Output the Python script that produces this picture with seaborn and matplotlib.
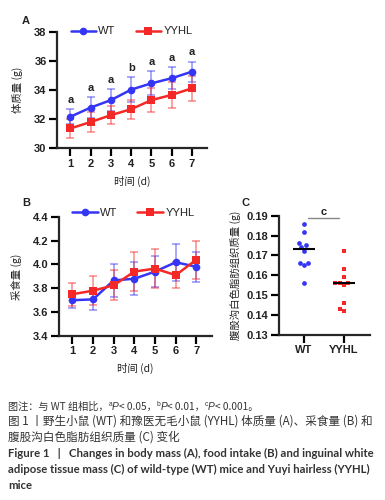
import numpy as np
import pandas as pd
import seaborn as sns
import matplotlib
matplotlib.use('Agg')
import matplotlib.pyplot as plt
from matplotlib.ticker import FormatStrFormatter

# data
days = [1, 2, 3, 4, 5, 6, 7]
groups = ['WT', 'YYHL']

mass_wt = [32.16, 32.79, 33.3, 34.02, 34.45, 34.8, 35.25]
mass_wt_sd = [0.52, 0.73, 0.75, 0.84, 0.82, 0.75, 0.68]
mass_yy = [31.36, 31.8, 32.27, 32.68, 33.3, 33.66, 34.11]
mass_yy_sd = [0.66, 0.66, 0.62, 0.66, 0.82, 0.9, 0.86]
mass_sig = ['a', 'a', 'a', 'b', 'a', 'a', 'a']

food_wt = [3.70, 3.707, 3.866, 3.88, 3.94, 4.018, 3.98]
food_wt_sd = [0.065, 0.09, 0.14, 0.14, 0.13, 0.155, 0.125]
food_yy = [3.75, 3.78, 3.825, 3.94, 3.965, 3.91, 4.04]
food_yy_sd = [0.095, 0.12, 0.125, 0.165, 0.165, 0.11, 0.16]

fat_wt = [0.186, 0.182, 0.176, 0.175, 0.174, 0.172, 0.166, 0.166, 0.165, 0.156]
fat_yy = [0.172, 0.163, 0.159, 0.156, 0.156, 0.156, 0.155, 0.146, 0.143, 0.142]

blue = '#3535f5'
red = '#f52828'
palette = {'WT': blue, 'YYHL': red}
shapes = {'WT': 'o', 'YYHL': 's'}
cjk = ['Noto Sans CJK SC', 'DejaVu Sans']
num = ['Liberation Sans', 'DejaVu Sans']
ink = '#222222'

sns.set_style('ticks')
plt.rcParams['font.family'] = cjk
plt.rcParams['axes.linewidth'] = 1.6

fig = plt.figure(figsize=(3.85, 5.0), dpi=100)
W, H = 385.0, 500.0

def px_axes(x0, y0, x1, y1):
    return fig.add_axes([x0 / W, 1 - y1 / H, (x1 - x0) / W, (y1 - y0) / H])

def style_axes(ax):
    sns.despine(ax=ax)
    ax.tick_params(width=1.6, length=5.5, color='black', labelsize=8, pad=2)
    for lab in ax.get_xticklabels() + ax.get_yticklabels():
        lab.set_family(num)
        lab.set_fontweight('bold')
        lab.set_color(ink)

def line_panel(ax, wt, wt_sd, yy, yy_sd, ylab):
    df = pd.DataFrame({
        'day': days * 2,
        'value': wt + yy,
        'group': ['WT'] * 7 + ['YYHL'] * 7,
    })
    ax.errorbar(days, wt, yerr=wt_sd, fmt='none', ecolor=blue, alpha=0.5,
                elinewidth=1.2, capsize=3, capthick=1.2, zorder=2)
    ax.errorbar(days, yy, yerr=yy_sd, fmt='none', ecolor=red, alpha=0.5,
                elinewidth=1.2, capsize=3, capthick=1.2, zorder=2)
    sns.lineplot(data=df, x='day', y='value', hue='group', style='group',
                 palette=palette, markers=shapes, dashes=False,
                 markersize=5.5, markeredgewidth=0, linewidth=1.8, ax=ax, zorder=3)
    ax.set_xticks(days)
    ax.set_xlim(0.34, 7.74)
    ax.set_xlabel('时间 (d)', fontsize=7.5, color=ink, labelpad=5)
    ax.set_ylabel(ylab, fontsize=7.5, color=ink, labelpad=8)
    ax.legend(ncol=2, loc='center left', bbox_to_anchor=(0.09, 1.0), frameon=False,
              fontsize=8, handlelength=2.3, handletextpad=0.2, columnspacing=1.8,
              borderaxespad=0, borderpad=0)
    for t in ax.get_legend().get_texts():
        t.set_family(num)
        t.set_color(ink)
    style_axes(ax)

# panel A
axA = px_axes(57, 31.5, 207, 148.3)
line_panel(axA, mass_wt, mass_wt_sd, mass_yy, mass_yy_sd, '体质量 (g)')
axA.set_ylim(30, 38)
axA.set_yticks([30, 32, 34, 36, 38])
style_axes(axA)
for d, m, s, lab in zip(days, mass_wt, mass_wt_sd, mass_sig):
    axA.text(d, m + s + 0.3, lab, ha='center', va='bottom', fontsize=8,
             family=num, fontweight='bold', color=ink)

# panel B
axB = px_axes(58.7, 216.7, 211.7, 336)
line_panel(axB, food_wt, food_wt_sd, food_yy, food_yy_sd, '采食量 (g)')
axB.set_ylim(3.4, 4.4)
axB.set_yticks([3.4, 3.6, 3.8, 4.0, 4.2, 4.4])
axB.yaxis.set_major_formatter(FormatStrFormatter('%.1f'))
axB.get_legend().set_bbox_to_anchor((0.09, 1.03))
style_axes(axB)

# panel C
axC = px_axes(279, 215.7, 370, 334.7)
dfc = pd.DataFrame({'group': ['WT'] * len(fat_wt) + ['YYHL'] * len(fat_yy),
                    'mass': fat_wt + fat_yy})
for g in groups:
    sns.swarmplot(data=dfc[dfc.group == g], x='group', y='mass', order=groups,
                  color=palette[g], marker=shapes[g], size=3.4, linewidth=0, ax=axC)
for i, g in enumerate(groups):
    med = np.median(dfc.loc[dfc.group == g, 'mass'])
    axC.hlines(med, i - 0.27, i + 0.27, color='black', linewidth=1.5, zorder=4)
axC.set_xlim(-0.625, 1.65)
axC.set_ylim(0.13, 0.19)
axC.set_yticks([0.13, 0.14, 0.15, 0.16, 0.17, 0.18, 0.19])
axC.yaxis.set_major_formatter(FormatStrFormatter('%.2f'))
axC.set_xlabel('')
axC.set_ylabel('腹股沟白色脂肪组织质量 (g)', fontsize=7.5, color=ink, labelpad=4)
style_axes(axC)
axC.plot([0.1, 0.88], [0.1888, 0.1888], color='#888888', linewidth=1, clip_on=False)
axC.text(0.49, 0.1893, 'c', ha='center', va='bottom', fontsize=8, family=num,
         fontweight='bold', color=ink)

# panel letters
for lab, x, y in [('A', 22, 21), ('B', 22, 203), ('C', 241, 203)]:
    fig.text(x / W, 1 - y / H, lab, fontsize=8, fontweight='bold', family=num,
             ha='left', va='center', color=ink)

# caption
cap = '#333333'
renderer = fig.canvas.get_renderer()

def chain(pieces, x, y):
    # place text pieces one after another on a baseline at pixel (x, y)
    cx = x
    for txt, kw in pieces:
        opts = dict(fontsize=7.3, color=cap, family=cjk)
        opts.update(kw)
        rise = opts.pop('rise', 0)
        t = fig.text(cx / W, 1 - (y - rise) / H, txt, ha='left', va='baseline', **opts)
        cx = t.get_window_extent(renderer).x1

sup = {'fontsize': 4.8, 'rise': 3.5, 'family': num}
ital = {'style': 'italic', 'family': num}
chain([('图注：与 WT 组相比，', {}), ('a', sup), ('P', ital), ('< 0.05，', {}),
       ('b', sup), ('P', ital), ('< 0.01，', {}), ('c', sup), ('P', ital),
       ('< 0.001。', {})], 8, 410)
big = {'fontweight': 'medium', 'fontsize': 8.35}
chain([('图 1 丨野生小鼠 (WT) 和豫医无毛小鼠 (YYHL) 体质量 (A)、采食量 (B) 和', big)], 8, 425)
chain([('腹股沟白色脂肪组织质量 (C) 变化', big)], 8, 441)
eng = {'family': ['Lato', 'DejaVu Sans'], 'fontweight': 'bold', 'fontsize': 8.2}
chain([('Figure 1   |   Changes in body mass (A), food intake (B) and inguinal white', eng)], 8, 457)
chain([('adipose tissue mass (C) of wild-type (WT) mice and Yuyi hairless (YYHL)', eng)], 8, 473)
chain([('mice', eng)], 8, 489)

fig.savefig('out.png', dpi=100)
